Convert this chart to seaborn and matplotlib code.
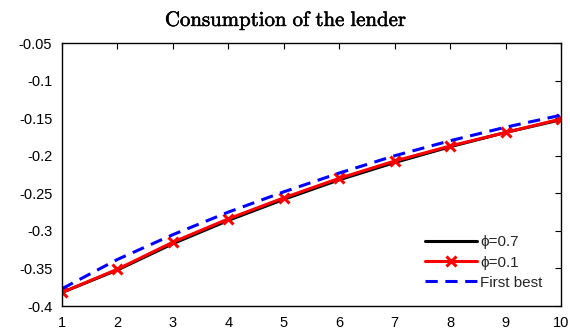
import numpy as np
import pandas as pd
import matplotlib
matplotlib.use("Agg")
import matplotlib.pyplot as plt
import matplotlib.patheffects as pe
import seaborn as sns

periods = [1, 2, 3, 4, 5, 6, 7, 8, 9, 10]
phi07 = [-0.382, -0.352, -0.317, -0.286, -0.258, -0.232, -0.209, -0.188, -0.169, -0.152]
phi01 = [-0.382, -0.351, -0.315, -0.284, -0.256, -0.230, -0.207, -0.187, -0.169, -0.151]
first_best = [-0.377, -0.338, -0.305, -0.275, -0.248, -0.223, -0.200, -0.180, -0.162, -0.146]
labels = ["ϕ=0.7", "ϕ=0.1", "First best"]
yticks = [-0.4, -0.35, -0.3, -0.25, -0.2, -0.15, -0.1, -0.05]
ytick_labels = ["-0.4", "-0.35", "-0.3", "-0.25", "-0.2", "-0.15", "-0.1", "-0.05"]

sns.set_theme(style="white")
plt.rcParams["font.family"] = ["Liberation Sans", "DejaVu Sans"]
plt.rcParams["mathtext.fontset"] = "cm"
plt.rcParams["axes.unicode_minus"] = False

fig = plt.figure(figsize=(5.7, 3.29), dpi=100)
ax = fig.add_axes([0.1088, 0.0699, 0.9842 - 0.1088, 0.869 - 0.0699])

sns.lineplot(x=periods, y=phi07, ax=ax, color="black", lw=2.2, label=labels[0])
sns.lineplot(x=periods, y=phi01, ax=ax, color="red", lw=2.2, marker="x",
             markersize=7, markeredgewidth=2.2, markeredgecolor="red", label=labels[1])
sns.lineplot(x=periods, y=first_best, ax=ax, color="blue", lw=2.2, label=labels[2],
             dashes=False, linestyle=(0, (4, 2.5)))

ax.set_xlim(1, 10)
ax.set_ylim(-0.4, -0.05)
ax.set_xticks(periods)
ax.set_xticklabels([str(p) for p in periods])
ax.set_yticks(yticks)
ax.set_yticklabels(ytick_labels)
ax.tick_params(direction="in", length=4, width=0.8, top=True, right=True,
               labelsize=10.5, colors="black")
ax.tick_params(axis="y", pad=7)
ax.tick_params(axis="x", pad=7)
for s in ax.spines.values():
    s.set_color("black")
    s.set_linewidth(1.0)

fig.text(0.502, 1 - 26 / 329, r"$\mathrm{Consumption\ of\ the\ lender}$",
         fontsize=15, ha="center", va="baseline", color="black",
         path_effects=[pe.withStroke(linewidth=0.4, foreground="black")])

leg = ax.legend(loc="lower right", frameon=False, fontsize=11, handlelength=3.4,
                handletextpad=0.2, labelspacing=0.4, borderaxespad=0.5,
                bbox_to_anchor=(0.99, 0.01))

fig.savefig("out.png", dpi=100)
